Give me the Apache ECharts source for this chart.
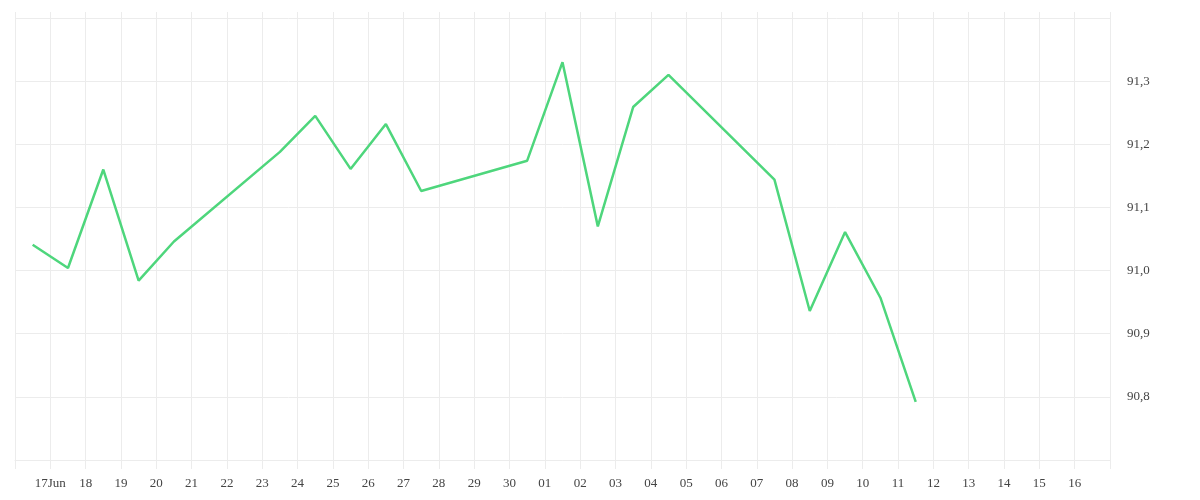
<!DOCTYPE html>
<html>
	<head>
		<meta charset="utf-8" />
		<title>chart</title>
		<script src="https://cdn.jsdelivr.net/npm/echarts@6/dist/echarts.min.js"></script>
		<style>
			html, body { margin: 0; padding: 0; background: #fff; }
			#main { width: 1200px; height: 500px; }
		</style>
	</head>
	<body>
		<div id="main"></div>
	</body>
	<script type="text/javascript">
		// trading days (weekends are skipped, the line just joins across them)
		var days = ['2025-06-16', '2025-06-17', '2025-06-18', '2025-06-19', '2025-06-20',
			'2025-06-23', '2025-06-24', '2025-06-25', '2025-06-26', '2025-06-27',
			'2025-06-30', '2025-07-01', '2025-07-02', '2025-07-03', '2025-07-04',
			'2025-07-07', '2025-07-08', '2025-07-09', '2025-07-10', '2025-07-11'];
		var values = [91.041, 91.004, 91.160, 90.984, 91.046,
			91.188, 91.245, 91.161, 91.232, 91.126,
			91.174, 91.330, 91.070, 91.259, 91.310,
			91.144, 90.936, 91.061, 90.957, 90.792];

		// axis range and labels
		var xStart = '2025-06-16';
		var xEnd = '2025-07-17';
		var xTickLabels = ['17Jun', '18', '19', '20', '21', '22', '23', '24', '25', '26', '27', '28', '29', '30',
			'01', '02', '03', '04', '05', '06', '07', '08', '09', '10', '11', '12', '13', '14', '15', '16'];
		var yTickLabels = ['', '90,8', '90,9', '91,0', '91,1', '91,2', '91,3', ''];

		var DAY = 86400000;
		var startTime = +new Date(xStart + 'T00:00:00');
		var endTime = +new Date(xEnd + 'T00:00:00');

		var seriesData = [];
		for (var i = 0; i < days.length; i++) {
			// each value sits in the middle of its day
			seriesData.push([days[i] + 'T12:00:00', values[i]]);
		}

		var gridColor = '#ececec';
		var labelFont = {
			fontFamily: 'Liberation Serif',
			fontSize: 13,
			color: '#444'
		};

		var myCharts = echarts.init(document.getElementById('main'));
		var option = {
			animation: false,
			grid: {
				left: 15,
				right: 90,
				top: 18,
				bottom: 40
			},
			xAxis: [{
				type: 'time',
				position: 'bottom',
				min: startTime,
				max: endTime,
				minInterval: DAY,
				maxInterval: DAY,
				axisLine: { show: true, lineStyle: { color: gridColor, width: 1 } },
				axisTick: { show: true, length: 9, lineStyle: { color: gridColor } },
				splitLine: { show: true, lineStyle: { color: gridColor, width: 1 } },
				axisLabel: Object.assign({
					margin: 17,
					showMinLabel: false,
					showMaxLabel: false,
					formatter: function (val) {
						var idx = Math.round((val - startTime) / DAY) - 1;
						return xTickLabels[idx] || '';
					}
				}, labelFont)
			}, {
				// only used for the little tick stubs above the plot
				type: 'time',
				position: 'top',
				min: startTime,
				max: endTime,
				minInterval: DAY,
				maxInterval: DAY,
				axisLine: { show: false },
				axisTick: { show: true, length: 6, lineStyle: { color: gridColor } },
				splitLine: { show: false },
				axisLabel: { show: false }
			}],
			yAxis: {
				type: 'value',
				position: 'right',
				min: 90.7,
				max: 91.4,
				interval: 0.1,
				axisLine: { show: false },
				axisTick: { show: false },
				splitLine: { show: true, lineStyle: { color: gridColor, width: 1 } },
				axisLabel: Object.assign({
					margin: 17,
					formatter: function (val) {
						var idx = Math.round((val - 90.7) / 0.1);
						return yTickLabels[idx] || '';
					}
				}, labelFont)
			},
			series: [{
				type: 'line',
				data: seriesData,
				showSymbol: false,
				symbol: 'none',
				lineStyle: { color: '#4ed67c', width: 2.5 },
				itemStyle: { color: '#4ed67c' }
			}]
		};
		myCharts.setOption(option);
	</script>
</html>
